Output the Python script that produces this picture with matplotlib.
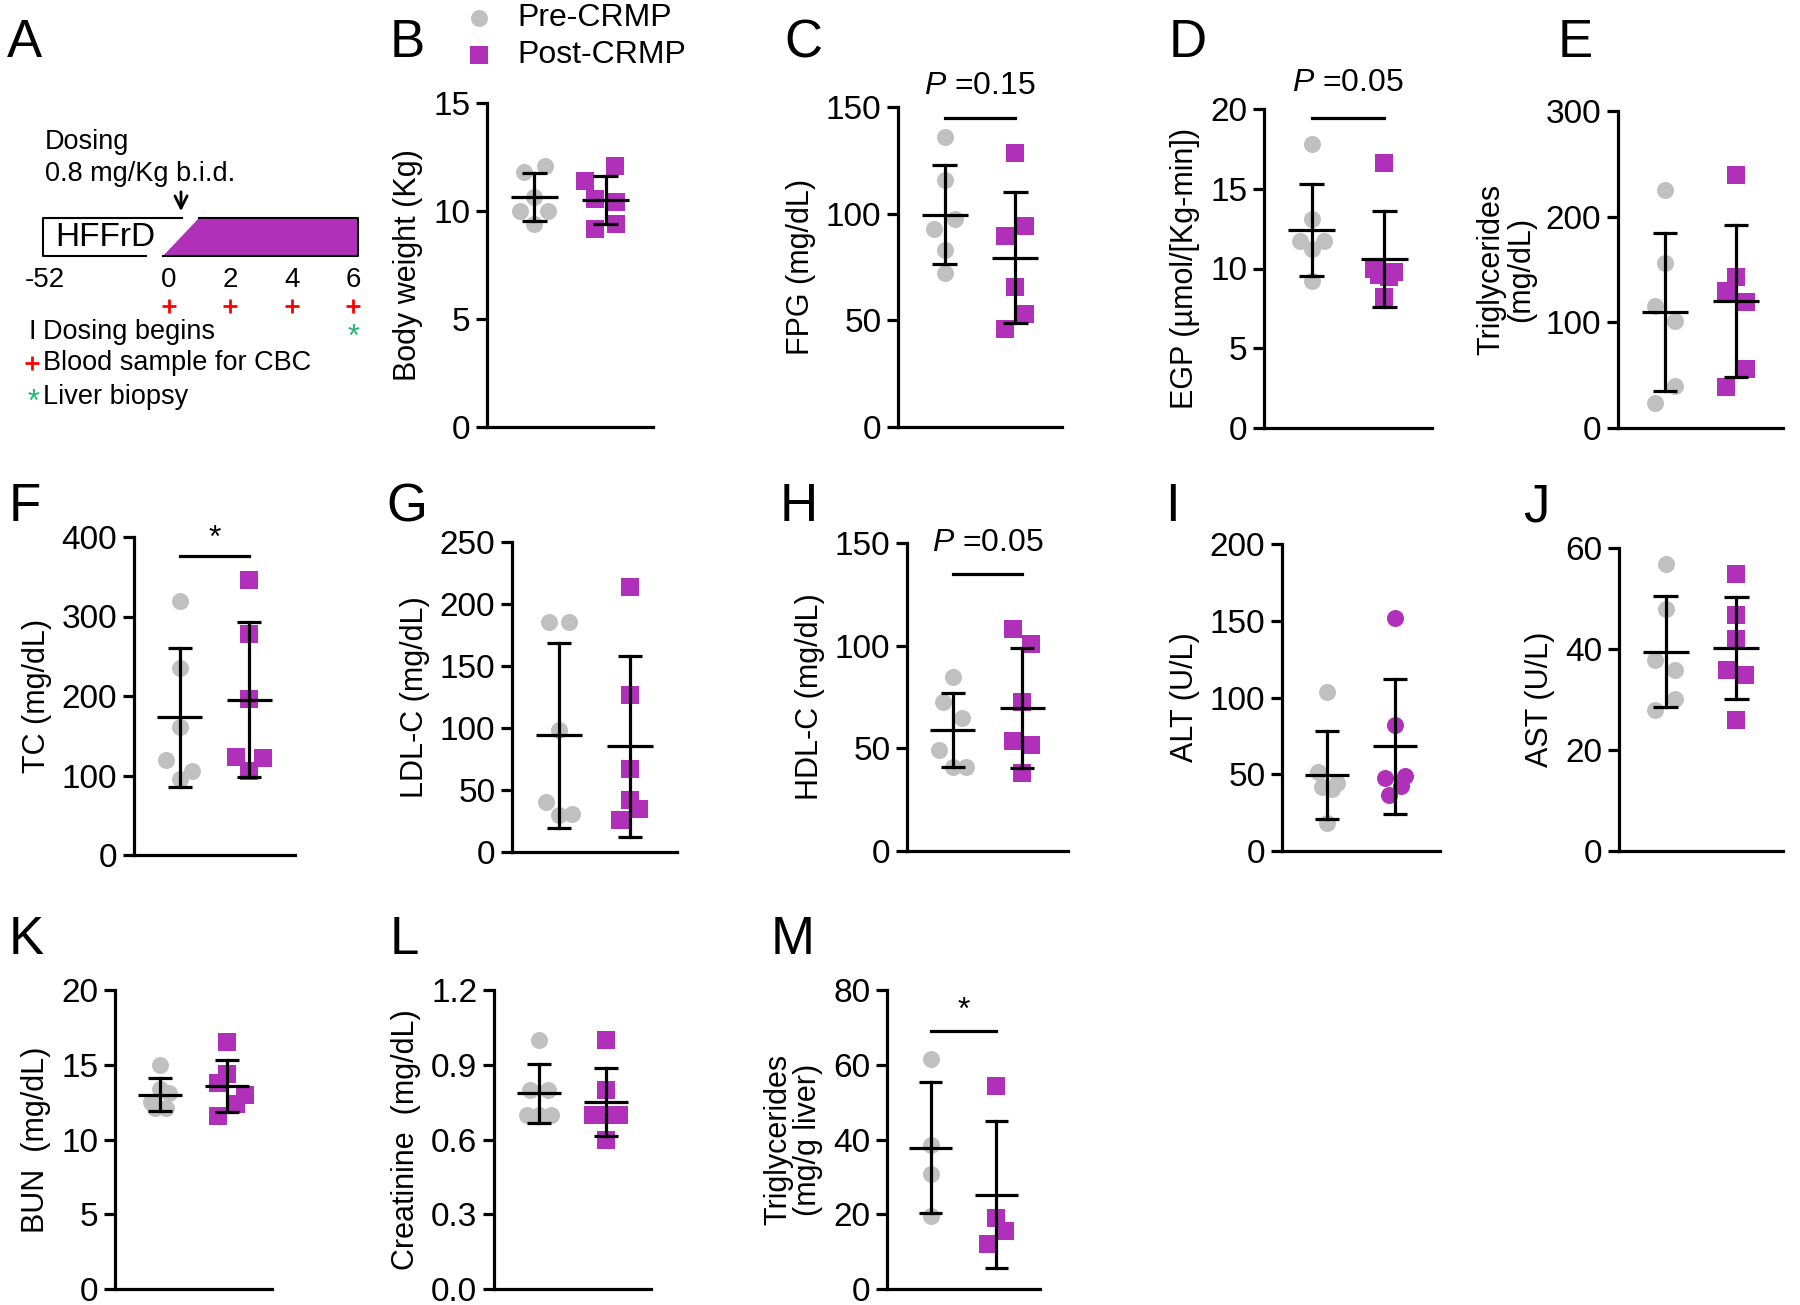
import matplotlib.pyplot as plt
from matplotlib.patches import Polygon

plt.rcParams['font.family'] = ['Liberation Sans', 'DejaVu Sans']
plt.rcParams['mathtext.fontset'] = 'custom'
plt.rcParams['mathtext.rm'] = 'Liberation Sans'
plt.rcParams['mathtext.it'] = 'Liberation Sans:italic'

GRAY = '#C0C0C0'
PURPLE = '#B030B9'
W, H = 1800, 1305

# ── data: [Pre-CRMP, Post-CRMP] ─────────────────────────────
bw_pre = [12.1, 11.8, 10.65, 10.0, 10.0, 9.4]
bw_post = [12.1, 11.4, 10.55, 10.4, 9.15, 9.4]
bw_mean, bw_sd = [10.65, 10.51], [1.09, 1.13]

fpg_pre = [136, 115.6, 97.4, 93, 83, 72]
fpg_post = [128.3, 94, 89.4, 65.7, 53, 45.8]
fpg_mean, fpg_sd = [99.5, 79.4], [23.1, 30.6]

egp_pre = [17.8, 13.1, 11.7, 11.7, 11.2, 9.2]
egp_post = [16.6, 10.0, 9.8, 9.6, 9.45, 8.2]
egp_mean, egp_sd = [12.4, 10.6], [2.9, 3.0]

tg_pre = [225.6, 155.7, 115, 101.5, 40, 23.6]
tg_post = [239.5, 142.8, 129.2, 119.1, 55.8, 38.4]
tg_mean, tg_sd = [110, 120.4], [75, 72]

tc_pre = [320, 235.8, 161.3, 119.2, 105.3, 95.2]
tc_post = [346.5, 277.9, 196.2, 123.8, 122.1, 105.3]
tc_mean, tc_sd = [173, 195.4], [88, 97.7]

ldl_pre = [185.5, 185.5, 98, 40.3, 29.6, 30.4]
ldl_post = [214, 127, 67, 42.2, 35, 26]
ldl_mean, ldl_sd = [94, 85.2], [74.6, 72.8]

hdl_pre = [84.7, 72.7, 64.6, 49, 40.9, 40.9]
hdl_post = [108, 101, 72.7, 53.7, 51.8, 37.8]
hdl_mean, hdl_sd = [58.9, 69.8], [18.1, 29.2]

alt_pre = [103.6, 51.6, 44, 41.4, 40.3, 18.3]
alt_post = [151.5, 82.4, 47.5, 48.8, 42.5, 36.7]
alt_mean, alt_sd = [49.8, 68.2], [28.7, 43.8]

ast_pre = [56.9, 47.9, 37.9, 35.9, 30.1, 28]
ast_post = [54.9, 46.8, 41.9, 35.9, 34.9, 26]
ast_mean, ast_sd = [39.5, 40.2], [11.0, 10.1]

bun_pre = [15, 13.4, 13.1, 12.5, 12.1, 12.1]
bun_post = [16.5, 14.4, 13.8, 13.0, 12.4, 11.6]
bun_mean, bun_sd = [13.0, 13.6], [1.1, 1.75]

cre_pre = [1.0, 0.80, 0.80, 0.70, 0.70, 0.70]
cre_post = [1.0, 0.80, 0.70, 0.70, 0.70, 0.60]
cre_mean, cre_sd = [0.785, 0.75], [0.118, 0.137]

ltg_pre = [61.6, 38.6, 30.9, 19.6]
ltg_post = [54.2, 19.1, 15.6, 12]
ltg_mean, ltg_sd = [37.8, 25.2], [17.5, 19.7]

# timeline of panel A (weeks)
tl_weeks = [0, 2, 4, 6]
cbc_weeks = [0, 2, 4, 6]
biopsy_weeks = [6]

# ── layout ──────────────────────────────────────────────────
X_PRE, X_POST = 0.285, 0.715
JIT = 0.07
LW = 2.3
S_CIRC, S_SQ = 150, 160

fig = plt.figure(figsize=(18, 13.05), dpi=100)

ov = fig.add_axes([0, 0, 1, 1])
ov.set_xlim(0, W)
ov.set_ylim(H, 0)
ov.axis('off')
ov.patch.set_visible(False)


def px_axes(left, top, right, bottom):
    ax = fig.add_axes([left / W, 1 - bottom / H, (right - left) / W, (bottom - top) / H])
    ax.set_facecolor('none')
    return ax


def panel(box, pre, post, mean, sd, dx_pre, dx_post, yticks, ylabel,
          post_marker='s', fmt='{:.0f}', sig=None, sig_y=None, sig_text_y=None):
    ax = px_axes(*box)
    ax.scatter([X_PRE + JIT * d for d in dx_pre], pre, s=S_CIRC, marker='o',
               color=GRAY, linewidths=0, zorder=2, clip_on=False)
    ax.scatter([X_POST + JIT * d for d in dx_post], post,
               s=S_SQ if post_marker == 's' else S_CIRC, marker=post_marker,
               color=PURPLE, linewidths=0, zorder=2, clip_on=False)
    for x, m, s in zip([X_PRE, X_POST], mean, sd):
        ax.plot([x - 0.14, x + 0.14], [m, m], color='k', lw=LW, zorder=3,
                solid_capstyle='butt', clip_on=False)
        ax.plot([x, x], [m - s, m + s], color='k', lw=LW, zorder=3, clip_on=False)
        for yy in (m - s, m + s):
            ax.plot([x - 0.075, x + 0.075], [yy, yy], color='k', lw=LW, zorder=3,
                    solid_capstyle='butt', clip_on=False)
    if sig is not None:
        ax.plot([X_PRE, X_POST], [sig_y, sig_y], color='k', lw=LW, clip_on=False)
        ax.text(0.5, sig_text_y, sig, ha='center', va='center', fontsize=23,
                clip_on=False)
    ax.set_xlim(0, 1)
    ax.set_ylim(yticks[0], yticks[-1])
    ax.set_yticks(yticks)
    ax.set_yticklabels([fmt.format(t) for t in yticks])
    ax.set_xticks([])
    for sp in ('top', 'right'):
        ax.spines[sp].set_visible(False)
    for sp in ('left', 'bottom'):
        ax.spines[sp].set_linewidth(LW)
    ax.tick_params(axis='y', length=8, width=LW, pad=4, labelsize=24)
    ax.set_ylabel(ylabel, fontsize=22, labelpad=7, linespacing=1.0)
    return ax


# row 1
panel((487, 103, 653, 427), bw_pre, bw_post, bw_mean, bw_sd,
      [0.9, -0.9, 0, -1.2, 1.2, 0], [0.8, -1.75, -0.9, 0.85, -0.9, 0.85],
      [0, 5, 10, 15], 'Body weight (Kg)')
panel((898, 107, 1062, 427), fpg_pre, fpg_post, fpg_mean, fpg_sd,
      [0, 0, 0.9, -0.9, 0, 0], [0, 0.85, -0.9, 0, 0.85, -0.9],
      [0, 50, 100, 150], 'FPG (mg/dL)',
      sig=r'$\mathit{P}$ =0.15', sig_y=145, sig_text_y=160)
panel((1264, 109, 1432, 428), egp_pre, egp_post, egp_mean, egp_sd,
      [0, 0, -1, 1, 0, 0], [0, -0.85, 0.85, -0.45, 0.45, 0],
      [0, 5, 10, 15, 20], 'EGP (µmol/[Kg-min])',
      sig=r'$\mathit{P}$ =0.05', sig_y=19.45, sig_text_y=21.6)
panel((1618, 111, 1783, 428), tg_pre, tg_post, tg_mean, tg_sd,
      [0, 0, -0.9, 0.9, 0.9, -0.9], [0, 0, -0.9, 0.9, 0.9, -0.9],
      [0, 100, 200, 300], 'Triglycerides\n(mg/dL)')

# row 2
panel((134, 537, 295, 855), tc_pre, tc_post, tc_mean, tc_sd,
      [0, 0, 0, -1.2, 1.1, 0], [0, 0, 0, -1.2, 1.2, 0],
      [0, 100, 200, 300, 400], 'TC (mg/dL)',
      sig='*', sig_y=376, sig_text_y=398)
panel((512, 542, 677, 852), ldl_pre, ldl_post, ldl_mean, ldl_sd,
      [-0.85, 0.85, 0, -1.15, 0, 1.15], [0, 0, 0, 0, 0.82, -0.85],
      [0, 50, 100, 150, 200, 250], 'LDL-C (mg/dL)')
panel((907, 543, 1068, 851), hdl_pre, hdl_post, hdl_mean, hdl_sd,
      [0, -0.88, 0.85, -1.2, 0, 1.2], [-0.85, 0.82, 0, -0.85, 0.82, 0],
      [0, 50, 100, 150], 'HDL-C (mg/dL)',
      sig=r'$\mathit{P}$ =0.05', sig_y=135, sig_text_y=150)
panel((1282, 544, 1440, 851), alt_pre, alt_post, alt_mean, alt_sd,
      [0, -0.85, 0.9, -0.48, 0.45, 0], [0, 0, -0.9, 0.9, 0.52, -0.55],
      [0, 50, 100, 150, 200], 'ALT (U/L)', post_marker='o')
panel((1619, 548, 1783, 851), ast_pre, ast_post, ast_mean, ast_sd,
      [0, 0, -0.9, 0.85, 0.85, -0.9], [0, 0, 0, -0.8, 0.8, 0],
      [0, 20, 40, 60], 'AST (U/L)')

# row 3
panel((115, 990, 272, 1289), bun_pre, bun_post, bun_mean, bun_sd,
      [0, 0, 0.86, -0.83, -0.47, 0.54], [0, 0, -0.83, 1.6, 0.83, -0.8],
      [0, 5, 10, 15, 20], 'BUN  (mg/dL)')
panel((494, 990, 651, 1289), cre_pre, cre_post, cre_mean, cre_sd,
      [0, -0.8, 0.8, -1.1, 0, 1.1], [0, 0, -1.18, 0, 1.18, 0],
      [0, 0.3, 0.6, 0.9, 1.2], 'Creatinine  (mg/dL)', fmt='{:.1f}')
panel((887, 990, 1040, 1289), ltg_pre, ltg_post, ltg_mean, ltg_sd,
      [0, 0, 0, 0], [0, 0, 0.85, -0.82],
      [0, 20, 40, 60, 80], 'Triglycerides\n(mg/g liver)',
      sig='*', sig_y=69, sig_text_y=74.5)

# panel letters
letters = {'A': (7, 43), 'B': (390, 43), 'C': (784, 43), 'D': (1169, 43),
           'E': (1558, 43), 'F': (9, 507), 'G': (386, 507), 'H': (780, 507),
           'I': (1165, 507), 'J': (1523, 507), 'K': (9, 940), 'L': (390, 940),
           'M': (771, 940)}
for k, (x, y) in letters.items():
    ov.text(x, y, k, fontsize=38, ha='left', va='center')

# legend
ov.scatter([479], [18], s=S_CIRC, marker='o', color=GRAY, linewidths=0)
ov.text(517, 18, 'Pre-CRMP', fontsize=23, va='center')
ov.scatter([479], [55], s=S_SQ, marker='s', color=PURPLE, linewidths=0)
ov.text(517, 55, 'Post-CRMP', fontsize=23, va='center')

# ── panel A: study schematic ─────────────────────────────────
def wx(w):
    return 169 + 30.7 * w

ov.text(45, 142, 'Dosing', fontsize=19.5, va='center')
ov.text(45, 174, '0.8 mg/Kg b.i.d.', fontsize=19.5, va='center')
ov.annotate('', xy=(181, 214), xytext=(181, 189),
            arrowprops=dict(arrowstyle='->', lw=2, color='k', mutation_scale=22))
ov.plot([182, 43, 43, 146], [218, 218, 256, 256], color='k', lw=1.5)
ov.text(55, 237, 'HFFrD', fontsize=24, va='center')
ov.add_patch(Polygon([(163, 256), (199, 218), (358, 218), (358, 256)],
                     closed=True, facecolor=PURPLE, edgecolor='none'))
ov.plot([199, 358, 358, 163], [218, 218, 256, 256], color='k', lw=1.5)

ov.text(45, 280, '-52', fontsize=20, ha='center', va='center')
for w in tl_weeks:
    ov.text(wx(w), 280, str(w), fontsize=20, ha='center', va='center')
ov.scatter([wx(w) for w in cbc_weeks], [306] * len(cbc_weeks), marker='+',
           s=110, color='red', linewidths=2)
for w in biopsy_weeks:
    ov.text(wx(w), 338, '*', fontsize=22, color='#22B573', ha='center', va='center')

ov.text(32, 332, 'I', fontsize=19.5, ha='center', va='center')
ov.text(43, 332, 'Dosing begins', fontsize=19.5, va='center')
ov.scatter([32], [363], marker='+', s=110, color='red', linewidths=2)
ov.text(43, 363, 'Blood sample for CBC', fontsize=19.5, va='center')
ov.text(33, 403, '*', fontsize=22, color='#22B573', ha='center', va='center')
ov.text(43, 397, 'Liver biopsy', fontsize=19.5, va='center')

fig.savefig('out.png', dpi=100)
